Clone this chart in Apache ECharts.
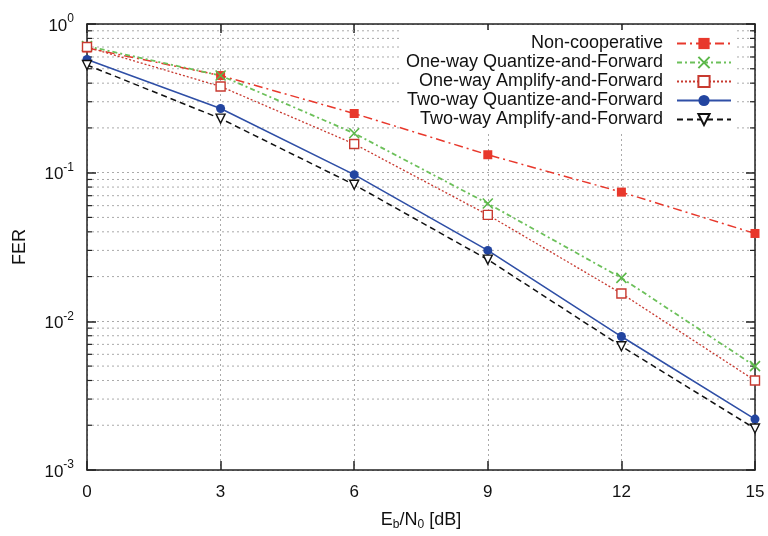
<!DOCTYPE html>
<html>
<head>
<meta charset="utf-8">
<script src="https://cdn.jsdelivr.net/npm/echarts@6/dist/echarts.min.js"></script>
<style>
  html, body { margin: 0; padding: 0; background: #fff; }
  #chart { width: 768px; height: 536px; }
</style>
</head>
<body>
<div id="chart"></div>
<script>
// Frame error rate versus Eb/N0 for the relaying schemes
const snrDb = [0, 3, 6, 9, 12, 15];
const xTicks = [0, 3, 6, 9, 12, 15];
const yTickExponents = [0, -1, -2, -3];

const nonCooperative = [0.69, 0.45, 0.25, 0.132, 0.074, 0.039];
const oneWayQF = [0.71, 0.45, 0.184, 0.062, 0.0196, 0.005];
const oneWayAF = [0.70, 0.38, 0.156, 0.052, 0.0154, 0.004];
const twoWayQF = [0.578, 0.27, 0.097, 0.030, 0.0079, 0.0022];
const twoWayAF = [0.53, 0.231, 0.083, 0.026, 0.0068, 0.0019];

const seriesNames = [
  'Non-cooperative',
  'One-way Quantize-and-Forward',
  'One-way Amplify-and-Forward',
  'Two-way Quantize-and-Forward',
  'Two-way Amplify-and-Forward'
];

// minor decade gridlines (2..9 x 10^e)
const minorValues = [];
for (let e = -3; e <= -1; e++) {
  for (let m = 2; m <= 9; m++) minorValues.push(m * Math.pow(10, e));
}

const FONT = 'Liberation Sans, Arial, sans-serif';
const pair = arr => arr.map((v, i) => [snrDb[i], v]);

const chart = echarts.init(document.getElementById('chart'), null, { renderer: 'canvas' });

const option = {
  animation: false,
  backgroundColor: '#fff',
  textStyle: { fontFamily: FONT },
  grid: { left: 87, right: 13, top: 24, bottom: 59, containLabel: false },
  legend: {
    data: seriesNames,
    orient: 'vertical',
    right: 31,
    top: 30,
    align: 'right',
    itemGap: 0,
    itemWidth: 54,
    itemHeight: 14,
    padding: [4, 5, 4, 5],
    textStyle: { fontFamily: FONT, fontSize: 18, color: '#111', lineHeight: 19, padding: [0, 9, 0, 0] },
    backgroundColor: '#fff'
  },
  xAxis: [{
    type: 'value', min: 0, max: 15, interval: 3,
    name: '{m|E}{s|b}{m|/N}{s|0}{m| [dB]}',
    nameLocation: 'middle', nameGap: 40,
    nameTextStyle: {
      rich: {
        m: { fontSize: 18, color: '#111', fontFamily: FONT },
        s: { fontSize: 12, color: '#111', fontFamily: FONT, padding: [9, 0, 0, 0] }
      }
    },
    axisLine: { show: true, onZero: false, lineStyle: { color: '#222', width: 1.5 } },
    axisTick: { show: true, inside: true, length: 9, lineStyle: { color: '#222', width: 1.5 } },
    axisLabel: { fontSize: 17, color: '#111', margin: 14, fontFamily: FONT,
      customValues: xTicks },
    splitLine: { show: true, lineStyle: { color: '#aaa', type: [2, 3], width: 1 } }
  }, {
    type: 'value', min: 0, max: 15, interval: 3, position: 'top',
    axisLine: { show: true, onZero: false, lineStyle: { color: '#222', width: 1.5 } },
    axisTick: { show: true, inside: true, length: 9, lineStyle: { color: '#222', width: 1.5 } },
    axisLabel: { show: false },
    splitLine: { show: false }
  }],
  yAxis: [{
    type: 'log', logBase: 10, min: 0.001, max: 1,
    name: 'FER', nameLocation: 'middle', nameGap: 58, nameRotate: 90,
    nameTextStyle: { fontSize: 18, color: '#111', fontFamily: FONT },
    axisLine: { show: true, onZero: false, lineStyle: { color: '#222', width: 1.5 } },
    axisTick: { show: true, inside: true, length: 9, lineStyle: { color: '#222', width: 1.5 } },
    axisLabel: {
      margin: 13,
      formatter: v => {
        const e = Math.round(Math.log10(v));
        if (yTickExponents.indexOf(e) < 0) return '';
        return '{b|10}{s|' + e + '}';
      },
      rich: {
        b: { fontSize: 17, color: '#111', fontFamily: FONT, padding: [4, 0, 0, 0] },
        s: { fontSize: 12, color: '#111', fontFamily: FONT, padding: [0, 0, 10, 0] }
      }
    },
    splitLine: { show: true, lineStyle: { color: '#aaa', type: [2, 3], width: 1 } }
  }, {
    type: 'log', logBase: 10, min: 0.001, max: 1, position: 'right',
    axisLine: { show: true, onZero: false, lineStyle: { color: '#222', width: 1.5 } },
    axisTick: { show: true, inside: true, length: 9, lineStyle: { color: '#222', width: 1.5 } },
    axisLabel: { show: false },
    splitLine: { show: false }
  }],
  series: [
    {
      type: 'custom',
      name: 'minor-grid',
      silent: true,
      z: 1,
      xAxisIndex: 0, yAxisIndex: 0,
      data: minorValues.map(v => [0, v]),
      renderItem: (params, api) => {
        const v = api.value(1);
        const p0 = api.coord([0, v]);
        const p1 = api.coord([15, v]);
        const y = p0[1];
        return {
          type: 'group',
          children: [
            { type: 'line', shape: { x1: p0[0], y1: y, x2: p1[0], y2: y },
              style: { stroke: '#aaa', lineWidth: 1, lineDash: [2, 3] } },
            { type: 'line', shape: { x1: p0[0], y1: y, x2: p0[0] + 5, y2: y },
              style: { stroke: '#222', lineWidth: 1.2 } },
            { type: 'line', shape: { x1: p1[0] - 5, y1: y, x2: p1[0], y2: y },
              style: { stroke: '#222', lineWidth: 1.2 } }
          ]
        };
      }
    },
    {
      name: seriesNames[0], type: 'line', data: pair(nonCooperative), z: 5,
      symbol: 'rect', symbolSize: 9,
      itemStyle: { color: '#e8382c' },
      lineStyle: { color: '#e8382c', width: 1.5, type: [9, 4, 2, 4] }
    },
    {
      name: seriesNames[1], type: 'line', data: pair(oneWayQF), z: 5,
      symbol: 'path://M0,0L10,10M10,0L0,10', symbolSize: 10,
      itemStyle: { color: 'rgba(0,0,0,0)', borderColor: '#5cb84a', borderWidth: 1.6 },
      lineStyle: { color: '#6cc05a', width: 1.8, type: [5, 3, 2, 3] }
    },
    {
      name: seriesNames[2], type: 'line', data: pair(oneWayAF), z: 5,
      symbol: 'rect', symbolSize: 9,
      itemStyle: { color: '#fff', borderColor: '#c83a30', borderWidth: 1.4 },
      lineStyle: { color: '#c83a30', width: 1.3, type: [2, 2] }
    },
    {
      name: seriesNames[3], type: 'line', data: pair(twoWayQF), z: 5,
      symbol: 'circle', symbolSize: 9,
      itemStyle: { color: '#2345a0' },
      lineStyle: { color: '#2f4fa6', width: 1.6, type: 'solid' }
    },
    {
      name: seriesNames[4], type: 'line', data: pair(twoWayAF), z: 5,
      symbol: 'triangle', symbolRotate: 180, symbolSize: 9,
      itemStyle: { color: '#fff', borderColor: '#111', borderWidth: 1.4 },
      lineStyle: { color: '#111', width: 1.5, type: [6, 4] }
    }
  ]
};

chart.setOption(option);
</script>
</body>
</html>
